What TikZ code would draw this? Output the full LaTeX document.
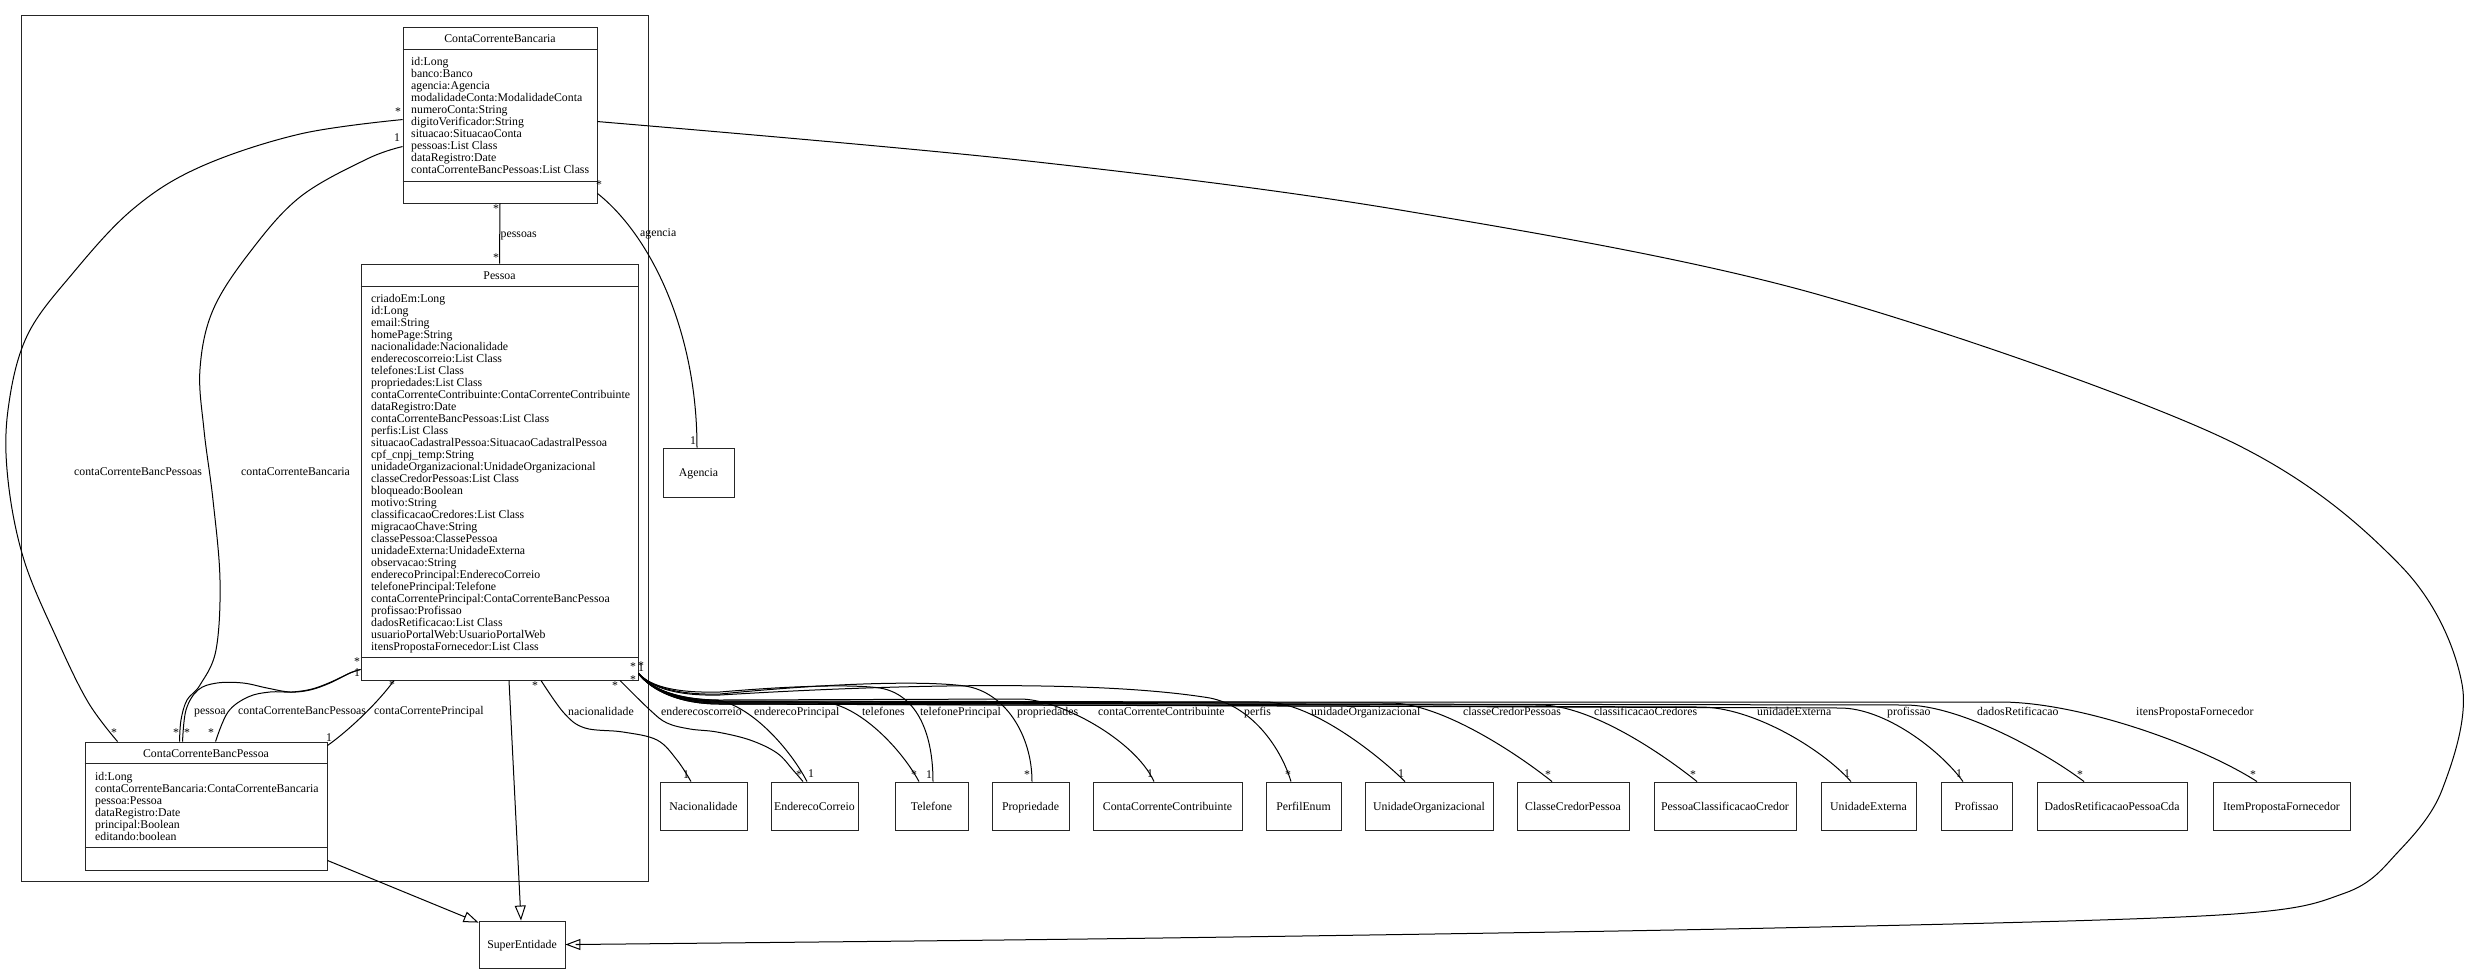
\documentclass[tikz,border=0pt]{standalone}
\usepackage{fontspec}
\setmainfont{Liberation Serif}
\usetikzlibrary{arrows.meta,calc}
\begin{document}
\begin{tikzpicture}[x=1pt,y=-1pt,
  every node/.style={font=\fontsize{11.8}{12}\selectfont, inner sep=0pt},
  box/.style={draw=black!85, line width=0.9pt, inner sep=0pt},
  sbox/.style={box, text height=8pt, text depth=0pt, minimum height=48pt},
  sep/.style={draw=black!85, line width=0.9pt},
  edge/.style={line width=1pt},
  gen/.style={edge, -{Triangle[open,length=15pt,width=11pt]}},
  lab/.style={anchor=base west},
  ms/.style={text height=11pt, text depth=0pt},
  mo/.style={text height=7.6pt, text depth=0pt},
  attr/.style={anchor=north west, align=left},
  ttl/.style={anchor=base},
]
\useasboundingbox (0,0) rectangle (2469,975);
\fill[white] (0,0) rectangle (2469,975);

% cluster
\node[draw=black!85, line width=0.9pt, minimum width=627.5pt, minimum height=866pt] (pkg) at (334.75,448) {};

% ContaCorrenteBancaria
\node[box, minimum width=194pt, minimum height=176pt] (ccb) at (500,115) {};
\draw[sep] ([yshift=-23pt]ccb.north west) -- ([yshift=-23pt]ccb.north east);
\draw[sep] ([yshift=22pt]ccb.south west) -- ([yshift=22pt]ccb.south east);
\node[ttl] (ccbt) at (500,42) {ContaCorrenteBancaria};
\node[attr] (ccba) at (411,56.8) {id:Long\\banco:Banco\\agencia:Agencia\\modalidadeConta:ModalidadeConta\\numeroConta:String\\digitoVerificador:String\\situacao:SituacaoConta\\pessoas:List Class\\dataRegistro:Date\\contaCorrenteBancPessoas:List Class};

% Pessoa
\node[box, minimum width=277pt, minimum height=416pt] (pessoa) at (499.5,472) {};
\draw[sep] ([yshift=-23pt]pessoa.north west) -- ([yshift=-23pt]pessoa.north east);
\draw[sep] ([yshift=23pt]pessoa.south west) -- ([yshift=23pt]pessoa.south east);
\node[ttl] (pesst) at (499.5,279) {Pessoa};
\node[attr] (pessa) at (371,293.8) {criadoEm:Long\\id:Long\\email:String\\homePage:String\\nacionalidade:Nacionalidade\\enderecoscorreio:List Class\\telefones:List Class\\propriedades:List Class\\contaCorrenteContribuinte:ContaCorrenteContribuinte\\dataRegistro:Date\\contaCorrenteBancPessoas:List Class\\perfis:List Class\\situacaoCadastralPessoa:SituacaoCadastralPessoa\\cpf\_cnpj\_temp:String\\unidadeOrganizacional:UnidadeOrganizacional\\classeCredorPessoas:List Class\\bloqueado:Boolean\\motivo:String\\classificacaoCredores:List Class\\migracaoChave:String\\classePessoa:ClassePessoa\\unidadeExterna:UnidadeExterna\\observacao:String\\enderecoPrincipal:EnderecoCorreio\\telefonePrincipal:Telefone\\contaCorrentePrincipal:ContaCorrenteBancPessoa\\profissao:Profissao\\dadosRetificacao:List Class\\usuarioPortalWeb:UsuarioPortalWeb\\itensPropostaFornecedor:List Class};

% ContaCorrenteBancPessoa
\node[box, minimum width=242pt, minimum height=128pt] (ccbp) at (206,806) {};
\draw[sep] ([yshift=-22pt]ccbp.north west) -- ([yshift=-22pt]ccbp.north east);
\draw[sep] ([yshift=23pt]ccbp.south west) -- ([yshift=23pt]ccbp.south east);
\node[ttl] (ccbpt) at (206,757) {ContaCorrenteBancPessoa};
\node[attr] (ccbpa) at (95,772.3) {id:Long\\contaCorrenteBancaria:ContaCorrenteBancaria\\pessoa:Pessoa\\dataRegistro:Date\\principal:Boolean\\editando:boolean};

% simple boxes
\node[sbox, minimum width=86pt, minimum height=47pt] (super) at (522,944.5) {SuperEntidade};
\node[sbox, minimum width=71pt, minimum height=49pt] (ag) at (698.5,472.5) {Agencia};
\node[sbox, minimum width=87pt] (nac) at (703.5,806) {Nacionalidade};
\node[sbox, minimum width=87pt] (end) at (814.5,806) {EnderecoCorreio};
\node[sbox, minimum width=73pt] (tel) at (931.5,806) {Telefone};
\node[sbox, minimum width=77pt] (prop) at (1030.5,806) {Propriedade};
\node[sbox, minimum width=149pt] (ccc) at (1167.5,806) {ContaCorrenteContribuinte};
\node[sbox, minimum width=75pt] (perf) at (1303.5,806) {PerfilEnum};
\node[sbox, minimum width=128pt] (uo) at (1429,806) {UnidadeOrganizacional};
\node[sbox, minimum width=112pt] (ccp) at (1573,806) {ClasseCredorPessoa};
\node[sbox, minimum width=142pt] (pcc) at (1725,806) {PessoaClassificacaoCredor};
\node[sbox, minimum width=95pt] (ue) at (1868.5,806) {UnidadeExterna};
\node[sbox, minimum width=71pt] (prof) at (1976.5,806) {Profissao};
\node[sbox, minimum width=150pt] (drpc) at (2112,806) {DadosRetificacaoPessoaCda};
\node[sbox, minimum width=137pt] (ipf) at (2281.5,806) {ItemPropostaFornecedor};

% helper coordinates
\coordinate (a1) at ([yshift=-95pt]ccb.north east);
\coordinate (o1) at ([yshift=-93pt]ccb.north west);
\coordinate (o2) at ([xshift=33pt]ccbp.north west);
\coordinate (i1) at ([yshift=-120pt]ccb.north west);
\coordinate (i2) at ([xshift=95pt]ccbp.north west);
\coordinate (pl) at ([yshift=11pt]pessoa.south west);
\coordinate (pr) at ([yshift=7pt]pessoa.south east);
\coordinate (n1) at ([xshift=41.5pt]pessoa.south);
\coordinate (n2) at ([xshift=-12.5pt]nac.north);
\coordinate (e1) at ([xshift=120.5pt]pessoa.south);
\coordinate (e2) at ([xshift=-11.5pt]end.north);

% generalizations
\draw[gen] plot[smooth, tension=0.55] coordinates {(a1) (1019,160) (1400,210) (1809,292) (2219,436) (2400,565) (2462,684) (2442,790) (2398,852) (2345,893) (2219,915) (1774,928) (1162,938) (672,943.5) (super.east)};
\draw[gen] ([yshift=10pt]ccbp.south east) -- ([yshift=-2pt]super.north west);
\draw[gen] ([xshift=9.5pt]pessoa.south) -- ([xshift=-1pt]super.north);

% associations
\draw[edge] (ccb.south) -- (pessoa.north);
\draw[edge] ([yshift=10pt]ccb.south east) .. controls (650,235) and (697,330) .. ([xshift=-1.5pt]ag.north);
\draw[edge] plot[smooth, tension=0.6] coordinates {(o1) (300,134) (200,167) (133,209) (73,273) (27,336) (8,410) (8,480) (24,560) (57,639) (88,702) (o2)};
\draw[edge] plot[smooth, tension=0.6] coordinates {(i1) (367,159) (300,197) (250,252) (213,310) (200,369) (204,430) (213,500) (220,580) (216,650) (200,685) (187,700) (181,720) (i2)};
\draw[edge] plot[smooth, tension=0.6] coordinates {([xshift=98pt]ccbp.north west) (186,710) (198,690) (217,683) (243,683) (267,688) (290,692) (310,690) (330,683) (350,673) (pl)};
\draw[edge] plot[smooth, tension=0.6] coordinates {([xshift=131pt]ccbp.north west) (228,712) (248,697) (270,692) (292,692) (312,689) (331,682) (350,673) (pl)};
\draw[edge] ([yshift=-4pt]ccbp.north east) .. controls (352,728) and (380,700) .. ([xshift=-105.5pt]pessoa.south);
\draw[edge] plot[smooth, tension=0.6] coordinates {(n1) (564,713) (585,728) (623,732) (657,740) (677,760) (n2)};
\draw[edge] plot[smooth, tension=0.6] coordinates {(e1) (650,710) (667,723) (690,729) (717,732) (750,740) (777,753) (793,770) (e2)};

% fan from Pessoa
\draw[edge] (pr) .. controls (650,690) and (680,699) .. (712,700) .. controls (745,700) and (788,745) .. ([xshift=-7.5pt]end.north);
\draw[edge] (pr) .. controls (652,690) and (680,701) .. (715,701) -- (820,702) .. controls (855,702) and (899,745) .. ([xshift=-12.5pt]tel.north);
\draw[edge] (pr) .. controls (652,688) and (680,693) .. (720,692) .. controls (790,686) and (850,684) .. (880,688) .. controls (915,694) and (933,730) .. ([xshift=1.5pt]tel.north);
\draw[edge] (pr) .. controls (652,688) and (680,695) .. (720,694) .. controls (820,684) and (920,680) .. (965,686) .. controls (1005,692) and (1032,735) .. ([xshift=1.5pt]prop.north);
\draw[edge] (pr) .. controls (652,690) and (680,700) .. (720,700) -- (1020,699) .. controls (1060,699) and (1135,740) .. ([xshift=-13.5pt]ccc.north);
\draw[edge] (pr) .. controls (652,689) and (680,696) .. (720,695) .. controls (900,684) and (1100,680) .. (1210,698) .. controls (1250,706) and (1280,745) .. ([xshift=-12.5pt]perf.north);
\draw[edge] (pr) .. controls (652,690) and (680,701) .. (720,701) -- (1265,702) .. controls (1310,702) and (1375,752) .. ([xshift=-24pt]uo.north);
\draw[edge] (pr) .. controls (652,690) and (680,702) .. (720,702) -- (1390,703) .. controls (1440,703) and (1515,752) .. ([xshift=-21pt]ccp.north);
\draw[edge] (pr) .. controls (652,691) and (680,703) .. (720,703) -- (1540,705) .. controls (1590,705) and (1660,752) .. ([xshift=-28pt]pcc.north);
\draw[edge] (pr) .. controls (652,691) and (680,704) .. (720,704) -- (1700,707) .. controls (1752,707) and (1821,748) .. ([xshift=-17.5pt]ue.north);
\draw[edge] (pr) .. controls (652,691) and (680,704) .. (720,704) -- (1840,708) .. controls (1885,708) and (1940,750) .. ([xshift=-13.5pt]prof.north);
\draw[edge] (pr) .. controls (652,691) and (680,703) .. (720,703) -- (1905,705) .. controls (1960,705) and (2045,752) .. ([xshift=-28pt]drpc.north);
\draw[edge] (pr) .. controls (652,690) and (680,702) .. (720,702) -- (2000,702) .. controls (2080,702) and (2200,745) .. ([xshift=-24.5pt]ipf.north);

% role labels
\node[lab] (l1) at (500.5,237.5) {pessoas};
\node[lab] (l2) at (640,236) {agencia};
\node[lab] (l3) at (74,475) {contaCorrenteBancPessoas};
\node[lab] (l4) at (241,475) {contaCorrenteBancaria};
\node[lab] (l5) at (194,714.5) {pessoa};
\node[lab] (l6) at (238,714.5) {contaCorrenteBancPessoas};
\node[lab] (l7) at (374,714.5) {contaCorrentePrincipal};
\node[lab] (l8) at (568,715) {nacionalidade};
\node[lab] (l9) at (661,715) {enderecoscorreio};
\node[lab] (l10) at (754,715) {enderecoPrincipal};
\node[lab] (l11) at (862,715) {telefones};
\node[lab] (l12) at (920,715) {telefonePrincipal};
\node[lab] (l13) at (1017,715) {propriedades};
\node[lab] (l14) at (1098,715) {contaCorrenteContribuinte};
\node[lab] (l15) at (1244,715) {perfis};
\node[lab] (l16) at (1311,715) {unidadeOrganizacional};
\node[lab] (l17) at (1463,715) {classeCredorPessoas};
\node[lab] (l18) at (1594,715) {classificacaoCredores};
\node[lab] (l19) at (1757,715) {unidadeExterna};
\node[lab] (l20) at (1887,715) {profissao};
\node[lab] (l21) at (1977,715) {dadosRetificacao};
\node[lab] (l22) at (2136,715) {itensPropostaFornecedor};

% multiplicities
\node[ms] (m1) at (496,207) {*};
\node[ms] (m2) at (496,256) {*};
\node[ms] (m3) at (398,110) {*};
\node[mo] (m4) at (397,138) {1};
\node[ms] (m5) at (114,731) {*};
\node[ms] (m6) at (176,731) {*};
\node[ms] (m7) at (187,731) {*};
\node[ms] (m8) at (211,731) {*};
\node[ms] (m9) at (357,660) {*};
\node[mo] (m10) at (357,673) {1};
\node[mo] (m11) at (329,738) {1};
\node[ms] (m12) at (392,683) {*};
\node[ms] (m13) at (599,183) {*};
\node[mo] (m14) at (693,441) {1};
\node[ms] (m15) at (535,684) {*};
\node[mo] (m16) at (686,775) {1};
\node[ms] (m17) at (615,684) {*};
\node[ms] (m18) at (799,773) {*};
\node[ms] (m19) at (633,665) {*};
\node[ms] (m20) at (641,664) {*};
\node[mo] (m21) at (641,668) {1};
\node[ms] (m22) at (633,678) {*};
\node[mo] (m23) at (811,774) {1};
\node[ms] (m24) at (914,773) {*};
\node[mo] (m25) at (929,775) {1};
\node[ms] (m26) at (1027,773) {*};
\node[mo] (m27) at (1150,774) {1};
\node[ms] (m28) at (1288,773) {*};
\node[mo] (m29) at (1401,774) {1};
\node[ms] (m30) at (1548,773) {*};
\node[ms] (m31) at (1693,773) {*};
\node[mo] (m32) at (1847,774) {1};
\node[mo] (m33) at (1959,774) {1};
\node[ms] (m34) at (2080,773) {*};
\node[ms] (m35) at (2253,773) {*};
\end{tikzpicture}
\end{document}
